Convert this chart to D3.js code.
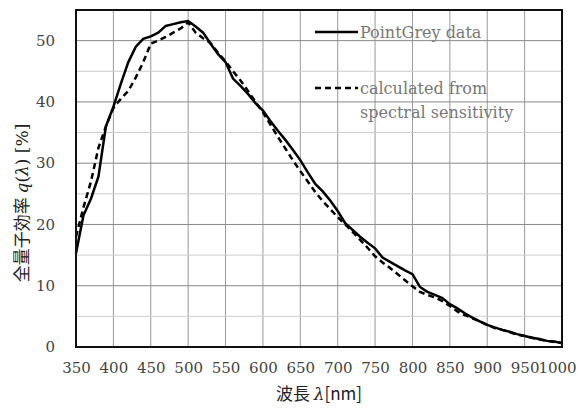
<!DOCTYPE html>
<html lang="ja">
<head>
<meta charset="UTF-8">
<title>量子効率</title>
<script src="https://cdn.jsdelivr.net/npm/d3@7"></script>
<style>
  body { margin: 0; background: #fff; }
  .tick-label { font-family: "DejaVu Serif", serif; font-size: 15px; fill: #444; }
  .legend-text { font-family: "DejaVu Serif", serif; font-size: 16px; fill: #777; }
  .title { font-family: "Noto Sans CJK JP", sans-serif; font-size: 17px; fill: #222; }
</style>
</head>
<body>
<svg width="579" height="409"></svg>
<script>
// wavelength [nm]
var wavelengths = [350,360,370,380,390,400,410,420,430,440,450,460,470,480,490,500,
  510,520,530,540,550,560,570,580,590,600,610,620,630,640,650,660,670,680,690,700,
  710,720,730,740,750,760,770,780,790,800,810,820,830,840,850,860,870,880,890,900,
  910,920,930,940,950,960,970,980,990,1000];

// PointGrey data [%]
var pointGrey = [15.3,21.5,24.2,27.8,36,39.2,43,46.5,49,50.3,50.7,51.3,52.4,52.7,53,53.2,
  52.3,51.3,49.5,47.8,46.5,43.8,42.6,41.3,39.8,38.6,36.9,35.3,33.8,32.2,30.5,28.5,26.6,25.4,23.9,22.2,
  20.2,19.1,18.0,17.0,16.1,14.6,13.9,13.2,12.5,11.9,9.8,9.0,8.5,8.0,7.0,6.3,5.5,4.8,4.2,3.6,
  3.2,2.8,2.5,2.1,1.8,1.5,1.3,1.0,0.9,0.6];

// calculated from spectral sensitivity [%]
var calculated = [18,22.8,27,32.5,36,39,40.5,41.8,44,46.5,49.5,50,50.6,51.3,52,53,
  51.3,50.4,49.6,48,46.6,45,43.5,41.8,40,38.3,36.3,34.3,32.4,30.5,28.7,27,25.3,23.8,22.5,21.2,
  20,18.8,17.5,16.2,14.8,13.8,12.9,11.9,10.9,9.9,9.0,8.5,8.1,7.5,6.7,5.8,5.2,4.7,4.2,3.6,
  3.1,2.8,2.4,2.0,1.8,1.5,1.2,1.0,0.8,0.7];

var xTicks = d3.range(350, 1001, 50);
var yTicks = [0, 10, 20, 30, 40, 50];
var yGrid = d3.range(0, 56, 5);

var svg = d3.select("svg"),
    margin = { top: 10, right: 17, bottom: 62, left: 76 },
    width = +svg.attr("width") - margin.left - margin.right,
    height = +svg.attr("height") - margin.top - margin.bottom,
    g = svg.append("g").attr("transform", "translate(" + margin.left + "," + margin.top + ")");

var x = d3.scaleLinear().domain([350, 1000]).range([0, width]);
var y = d3.scaleLinear().domain([0, 55]).range([height, 0]);

// grid
g.append("g").selectAll("line")
  .data(xTicks)
  .enter().append("line")
  .attr("x1", function (d) { return x(d); })
  .attr("x2", function (d) { return x(d); })
  .attr("y1", 0).attr("y2", height)
  .attr("stroke", "#999").attr("stroke-width", 1);

g.append("g").selectAll("line")
  .data(yGrid)
  .enter().append("line")
  .attr("x1", 0).attr("x2", width)
  .attr("y1", function (d) { return y(d); })
  .attr("y2", function (d) { return y(d); })
  .attr("stroke", function (d) { return d % 10 === 0 ? "#888" : "#ccc"; })
  .attr("stroke-width", 1);

// axes (labels only)
var xAxis = g.append("g")
  .attr("transform", "translate(0," + height + ")")
  .call(d3.axisBottom(x).tickValues(xTicks).tickFormat(d3.format("d")).tickSize(0).tickPadding(15));
xAxis.select(".domain").remove();
xAxis.selectAll("text").attr("class", "tick-label").attr("fill", null)
  .attr("dx", function (d) { return d === 1000 ? -5 : 0; });

var yAxis = g.append("g")
  .call(d3.axisLeft(y).tickValues(yTicks).tickSize(0).tickPadding(21));
yAxis.select(".domain").remove();
yAxis.selectAll("text").attr("class", "tick-label").attr("fill", null);

// lines
var line = d3.line()
  .x(function (d, i) { return x(wavelengths[i]); })
  .y(function (d) { return y(d); });

g.append("path")
  .datum(calculated)
  .attr("d", line)
  .attr("fill", "none")
  .attr("stroke", "#000")
  .attr("stroke-width", 2.5)
  .attr("stroke-dasharray", "6,4");

g.append("path")
  .datum(pointGrey)
  .attr("d", line)
  .attr("fill", "none")
  .attr("stroke", "#000")
  .attr("stroke-width", 2.5);

// frame
g.append("rect")
  .attr("width", width).attr("height", height)
  .attr("fill", "none").attr("stroke", "#111").attr("stroke-width", 2);

// legend
var legend = g.append("g").attr("transform", "translate(239,22)");
legend.append("line")
  .attr("x1", 0).attr("x2", 43).attr("y1", 0).attr("y2", 0)
  .attr("stroke", "#000").attr("stroke-width", 2.5);
legend.append("text").attr("class", "legend-text")
  .attr("x", 45).attr("y", 6).text("PointGrey data");
legend.append("line")
  .attr("x1", 0).attr("x2", 43).attr("y1", 56).attr("y2", 56)
  .attr("stroke", "#000").attr("stroke-width", 2.5)
  .attr("stroke-dasharray", "6,4");
legend.append("text").attr("class", "legend-text")
  .attr("x", 45).attr("y", 62).text("calculated from");
legend.append("text").attr("class", "legend-text")
  .attr("x", 45).attr("y", 86).text("spectral sensitivity");

// axis titles
var xt = svg.append("text").attr("class", "title")
  .attr("x", margin.left + width / 2).attr("y", 400)
  .attr("text-anchor", "middle");
xt.append("tspan").text("波長 ");
xt.append("tspan").attr("font-family", "DejaVu Serif, serif").attr("font-style", "italic").text("λ");
xt.append("tspan").text("[nm]");

var yt = svg.append("text").attr("class", "title")
  .attr("transform", "translate(28,203) rotate(-90)")
  .attr("text-anchor", "middle");
yt.append("tspan").text("全量子効率 ");
yt.append("tspan").attr("font-family", "DejaVu Serif, serif").attr("font-style", "italic").text("q");
yt.append("tspan").attr("font-family", "DejaVu Serif, serif").text("(");
yt.append("tspan").attr("font-family", "DejaVu Serif, serif").attr("font-style", "italic").text("λ");
yt.append("tspan").attr("font-family", "DejaVu Serif, serif").text(") [%]");
</script>
</body>
</html>
